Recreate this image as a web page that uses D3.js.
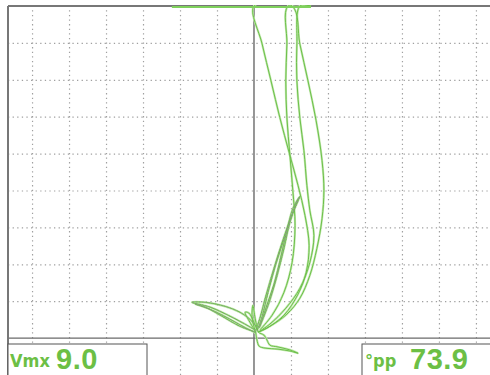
<!DOCTYPE html>
<html>
<head>
<meta charset="utf-8">
<script src="https://cdn.jsdelivr.net/npm/d3@7"></script>
<style>
  html, body { margin: 0; padding: 0; background: #fff; }
  svg { display: block; }
  .grid .domain { display: none; }
  .grid line { stroke: #a0a0a0; stroke-width: 1.2; stroke-dasharray: 1.3 3.3; }
</style>
</head>
<body>
<svg id="chart" width="490" height="375"></svg>
<script>
// screen divisions
const xDivs = [-6, -5, -4, -3, -2, -1, 1, 2, 3, 4, 5, 6];
const yDivs = [1, 2, 3, 4, 5, 6, 7, 8];

// readout values
const readouts = [
    { label: "Vmx", value: "9.0" },
    { label: "°pp", value: "73.9" }
];

// traces, in screen divisions [x, y]
const outerLoop = [
    [0.11, 0.16], [0.43, 0.32], [0.89, 0.65], [1.24, 1.08], [1.51, 1.70], [1.70, 2.43],
    [1.84, 3.24], [1.89, 4.00], [1.84, 4.81], [1.68, 5.89], [1.46, 6.97], [1.24, 7.97],
    [1.03, 9.0], [0, 9.0], [0.22, 7.97], [0.46, 6.97], [0.70, 5.97], [0.95, 5.03],
    [1.19, 4.14], [1.38, 3.32], [1.49, 2.51], [1.41, 1.78], [1.19, 1.19], [0.81, 0.62],
    [0.35, 0.27], [0.11, 0.16]
];
const secondLoop = [
    [0.11, 0.16], [0.43, 0.38], [0.86, 0.81], [1.24, 1.35], [1.51, 2.05], [1.62, 2.78],
    [1.51, 3.46], [1.43, 4.14], [1.35, 5.08], [1.24, 5.97], [1.16, 6.97], [1.16, 7.97],
    [1.24, 9.0], [1.54, 9.0], [0.92, 9.0], [0.89, 7.97], [0.86, 6.97], [0.89, 5.97],
    [0.97, 4.97], [1.05, 4.00], [1.11, 3.05], [1.03, 2.05], [0.81, 1.24], [0.49, 0.62],
    [0.16, 0.22]
];
const innerLoop1 = [
    [0.05, 0.22], [0.16, 0.54], [0.32, 1.14], [0.54, 1.89], [0.78, 2.65], [1.03, 3.35],
    [1.24, 3.84], [1.14, 3.65], [0.97, 3.14], [0.81, 2.43], [0.62, 1.68], [0.41, 0.97],
    [0.16, 0.32]
];
const innerLoop2 = [
    [0.08, 0.19], [0.22, 0.59], [0.38, 1.24], [0.59, 2.00], [0.84, 2.76], [1.08, 3.46],
    [1.22, 3.81], [1.05, 3.51], [0.89, 2.92], [0.73, 2.22], [0.54, 1.46], [0.32, 0.81],
    [0.14, 0.27]
];
const leftLobe1 = [
    [0.03, 0.22], [-0.30, 0.41], [-0.70, 0.62], [-1.19, 0.84], [-1.68, 0.97], [-1.32, 0.97],
    [-0.78, 0.86], [-0.38, 0.70], [-0.11, 0.51], [0.05, 0.32]
];
const leftLobe2 = [
    [0.05, 0.16], [-0.38, 0.32], [-0.86, 0.59], [-1.32, 0.84], [-1.59, 0.92], [-1.19, 0.78],
    [-0.70, 0.54], [-0.27, 0.30], [0.05, 0.14]
];
const feather1 = [[0.05, 0.16], [-0.11, 0.43], [-0.24, 0.70], [-0.14, 0.68], [0, 0.43], [0.08, 0.22]];
const feather2 = [[0.05, 0.14], [-0.05, 0.54], [-0.03, 0.89], [0.03, 0.54], [0.11, 0.16]];
const lowerLobe = [
    [0.05, 0.14], [0.08, -0.05], [0.14, -0.22], [0.30, -0.27], [0.65, -0.30], [0.97, -0.35],
    [1.19, -0.41], [0.97, -0.32], [0.65, -0.24], [0.43, -0.19], [0.35, -0.05], [0.27, 0.08],
    [0.14, 0.14]
];
const topClamp = [[-2.22, 9.0], [1.54, 9.0]];

const W = 490, H = 375;
const padLeft = 8, padTop = 6;

const svg = d3.select("#chart");

const xScale = d3.scaleLinear()
    .domain([-6.65, 6.38])
    .range([padLeft, W]);
const yScale = d3.scaleLinear()
    .domain([-1, 9])
    .range([H, padTop]);

svg.append("defs").append("clipPath")
    .attr("id", "plot")
    .append("rect")
    .attr("x", padLeft).attr("y", padTop - 1)
    .attr("width", W - padLeft).attr("height", H - padTop + 1);

// dotted grid
svg.append("g")
    .classed("grid", true)
    .attr("transform", `translate(0, ${H})`)
    .call(d3.axisBottom(xScale).tickValues(xDivs).tickSize(-(H - padTop)).tickFormat(""));

svg.append("g")
    .classed("grid", true)
    .attr("transform", `translate(${padLeft}, 0)`)
    .call(d3.axisLeft(yScale).tickValues(yDivs).tickSize(-(W - padLeft)).tickFormat(""));

// main axes
svg.append("line")
    .attr("x1", xScale(0)).attr("x2", xScale(0))
    .attr("y1", padTop).attr("y2", H)
    .attr("stroke", "#6a6a6a").attr("stroke-width", 1.4);
svg.append("line")
    .attr("x1", padLeft).attr("x2", W)
    .attr("y1", yScale(0)).attr("y2", yScale(0))
    .attr("stroke", "#6a6a6a").attr("stroke-width", 1.4);

// frame
svg.append("line")
    .attr("x1", padLeft).attr("x2", W)
    .attr("y1", padTop).attr("y2", padTop)
    .attr("stroke", "#777").attr("stroke-width", 2);
svg.append("line")
    .attr("x1", padLeft).attr("x2", padLeft)
    .attr("y1", padTop).attr("y2", H)
    .attr("stroke", "#777").attr("stroke-width", 2);

const line = d3.line()
    .x(d => xScale(d[0]))
    .y(d => yScale(d[1]))
    .curve(d3.curveCatmullRom.alpha(0.5));

const traces = svg.append("g").attr("clip-path", "url(#plot)").attr("fill", "none");

// light halo under every trace
const allTraces = [outerLoop, secondLoop, innerLoop1, innerLoop2, leftLobe1, leftLobe2, feather1, feather2, lowerLobe];
traces.selectAll(".halo")
    .data(allTraces)
    .enter()
    .append("path")
    .classed("halo", true)
    .attr("d", line)
    .attr("stroke", "#c3e8b0")
    .attr("stroke-width", 2.2);

traces.selectAll(".trace")
    .data(allTraces)
    .enter()
    .append("path")
    .classed("trace", true)
    .attr("d", line)
    .attr("stroke", "#6cc049")
    .attr("stroke-width", 1);

// greyish dashed cores on the inner loops
traces.selectAll(".core")
    .data([innerLoop1, innerLoop2, leftLobe1, leftLobe2])
    .enter()
    .append("path")
    .classed("core", true)
    .attr("d", line)
    .attr("stroke", "#8f998b")
    .attr("stroke-width", 0.9)
    .attr("stroke-dasharray", "1.2 2");

traces.append("path")
    .attr("d", d3.line().x(d => xScale(d[0])).y(d => yScale(d[1]) + 1)(topClamp))
    .attr("stroke", "#7fd15c")
    .attr("stroke-width", 2);

// readout boxes
const boxes = [
    { x: padLeft, w: 147 - padLeft, lx: 10, vx: 56 },
    { x: 362, w: W - 362 + 2, lx: 365, vx: 410 }
];
boxes.forEach((b, i) => {
    const g = svg.append("g");
    g.append("rect")
        .attr("x", b.x).attr("y", 344)
        .attr("width", b.w).attr("height", H - 344 + 2)
        .attr("fill", "#fff")
        .attr("stroke", "#555").attr("stroke-width", 1);
    g.append("text")
        .attr("x", b.lx).attr("y", 367)
        .attr("fill", "#6cbf45")
        .attr("font-family", "'Liberation Sans Narrow', 'DejaVu Sans Condensed', sans-serif")
        .attr("font-weight", "bold")
        .attr("font-size", 18)
        .text(readouts[i].label);
    g.append("text")
        .attr("x", b.vx).attr("y", 369)
        .attr("fill", "#6cbf45")
        .attr("font-family", "'Liberation Sans', Arial, sans-serif")
        .attr("font-weight", "bold")
        .attr("font-size", 29)
        .attr("letter-spacing", 0.5)
        .text(readouts[i].value);
});
</script>
</body>
</html>
